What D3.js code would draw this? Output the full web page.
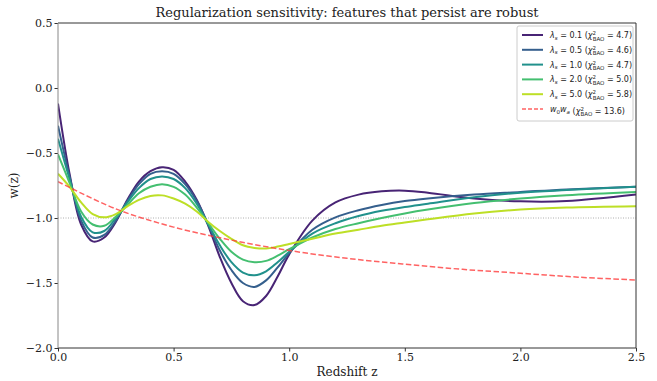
<!DOCTYPE html>
<html>
<head>
<meta charset="utf-8">
<script src="https://cdn.jsdelivr.net/npm/d3@7"></script>
<style>
body { margin: 0; background: #fff; }
svg { display: block; }
.tick text { font-family: "DejaVu Serif", serif; font-size: 11px; fill: #222; }
</style>
</head>
<body>
<div id="chart"></div>
<script>
// redshift grid the curves were read on
var z_grid = [0, 0.05, 0.1, 0.15, 0.2, 0.25, 0.3, 0.35, 0.4, 0.45, 0.5, 0.55, 0.6, 0.65,
              0.7, 0.75, 0.8, 0.85, 0.9, 0.95, 1.0, 1.1, 1.2, 1.3, 1.4, 1.5, 1.6, 1.8,
              2.0, 2.2, 2.5];

var w_lam01 = [-0.12, -0.66, -1.05, -1.18, -1.15, -1.03, -0.86, -0.72, -0.64, -0.61, -0.63, -0.72,
               -0.86, -1.06, -1.30, -1.50, -1.64, -1.67, -1.60, -1.45, -1.28, -1.02, -0.88, -0.82,
               -0.795, -0.79, -0.805, -0.85, -0.872, -0.87, -0.82];
var w_lam05 = [-0.29, -0.68, -1.02, -1.15, -1.13, -1.02, -0.87, -0.74, -0.66, -0.64, -0.66, -0.74,
               -0.87, -1.05, -1.25, -1.40, -1.50, -1.53, -1.48, -1.38, -1.27, -1.09, -0.995, -0.94,
               -0.90, -0.87, -0.85, -0.82, -0.80, -0.78, -0.76];
var w_lam10 = [-0.39, -0.70, -0.99, -1.11, -1.10, -1.00, -0.88, -0.77, -0.70, -0.68, -0.70, -0.77,
               -0.89, -1.05, -1.21, -1.34, -1.42, -1.44, -1.41, -1.34, -1.26, -1.12, -1.04, -0.985,
               -0.945, -0.915, -0.89, -0.84, -0.805, -0.785, -0.76];
var w_lam20 = [-0.51, -0.73, -0.95, -1.05, -1.06, -0.99, -0.90, -0.81, -0.76, -0.74, -0.76, -0.82,
               -0.92, -1.04, -1.16, -1.26, -1.32, -1.34, -1.33, -1.29, -1.24, -1.15, -1.085, -1.04,
               -1.00, -0.965, -0.935, -0.885, -0.85, -0.825, -0.80];
var w_lam50 = [-0.66, -0.76, -0.88, -0.97, -0.995, -0.97, -0.91, -0.86, -0.83, -0.826, -0.85, -0.89,
               -0.95, -1.03, -1.10, -1.16, -1.21, -1.23, -1.235, -1.22, -1.20, -1.16, -1.12, -1.09,
               -1.06, -1.035, -1.01, -0.965, -0.935, -0.92, -0.91];

// w0wa fit, read on a coarser grid
var z_w0wa = [0, 0.25, 0.5, 0.75, 1.0, 1.25, 1.5, 1.75, 2.0, 2.25, 2.5];
var w_w0wa = [-0.72, -0.93, -1.07, -1.17, -1.25, -1.31, -1.355, -1.395, -1.425, -1.455, -1.477];

var lambdas = ["0.1", "0.5", "1.0", "2.0", "5.0"];
var chi2 = ["4.7", "4.6", "4.7", "5.0", "5.8"];
var chi2_w0wa = "13.6";

var x_ticks = [0, 0.5, 1.0, 1.5, 2.0, 2.5];
var y_ticks = [0.5, 0, -0.5, -1.0, -1.5, -2.0];

var W = 657, H = 381;
var margin = {left: 58, right: 21, top: 23, bottom: 33};

var series = [w_lam01, w_lam05, w_lam10, w_lam20, w_lam50];
var colors = ["#482475", "#355f8d", "#21918c", "#44bf70", "#bddf26"];

var svg = d3.select("#chart").append("svg")
    .attr("width", W)
    .attr("height", H);

var x = d3.scaleLinear().domain([0, 2.5]).range([margin.left, W - margin.right]);
var y = d3.scaleLinear().domain([-2.0, 0.5]).range([H - margin.bottom, margin.top]);

var fmt = function(d) { return d3.format(".1f")(d).replace("-", "\u2212"); };

// clip curves to the axes box
svg.append("clipPath").attr("id", "clip")
    .append("rect")
    .attr("x", margin.left).attr("y", margin.top)
    .attr("width", W - margin.left - margin.right)
    .attr("height", H - margin.top - margin.bottom);

var plot = svg.append("g").attr("clip-path", "url(#clip)");

// reference line w = -1
plot.append("line")
    .attr("x1", x(0)).attr("x2", x(2.5))
    .attr("y1", y(-1)).attr("y2", y(-1))
    .attr("stroke", "#999")
    .attr("stroke-width", 0.8)
    .attr("stroke-dasharray", "1,1.5");

var line = d3.line()
    .x(function(d) { return x(d[0]); })
    .y(function(d) { return y(d[1]); })
    .curve(d3.curveCatmullRom.alpha(0.5));

series.forEach(function(s, i) {
    plot.append("path")
        .datum(z_grid.map(function(z, j) { return [z, s[j]]; }))
        .attr("d", line)
        .attr("fill", "none")
        .attr("stroke", colors[i])
        .attr("stroke-width", 2);
});

plot.append("path")
    .datum(z_w0wa.map(function(z, j) { return [z, w_w0wa[j]]; }))
    .attr("d", line)
    .attr("fill", "none")
    .attr("stroke", "#ff3b3b")
    .attr("stroke-opacity", 0.8)
    .attr("stroke-width", 1.5)
    .attr("stroke-dasharray", "5.5,2.5");

// axes
var xAxis = svg.append("g")
    .attr("transform", "translate(0," + (H - margin.bottom) + ")")
    .call(d3.axisBottom(x).tickValues(x_ticks).tickFormat(fmt).tickSizeOuter(0).tickSize(3.5).tickPadding(2));
var yAxis = svg.append("g")
    .attr("transform", "translate(" + margin.left + ",0)")
    .call(d3.axisLeft(y).tickValues(y_ticks).tickFormat(fmt).tickSizeOuter(0).tickSize(3.5).tickPadding(2));
xAxis.select(".domain").remove();
yAxis.select(".domain").remove();
xAxis.selectAll(".tick line").attr("stroke", "#333");
yAxis.selectAll(".tick line").attr("stroke", "#333");

// spines
var spine = function(x1, y1, x2, y2, c) {
    svg.append("line")
        .attr("x1", x1).attr("y1", y1).attr("x2", x2).attr("y2", y2)
        .attr("stroke", c).attr("stroke-width", 1);
}
spine(margin.left, margin.top, W - margin.right, margin.top, "#333");
spine(W - margin.right, margin.top, W - margin.right, H - margin.bottom, "#333");
spine(margin.left, H - margin.bottom, W - margin.right, H - margin.bottom, "#333");
spine(margin.left, margin.top, margin.left, H - margin.bottom, "#888");

// title and labels
svg.append("text")
    .attr("x", (margin.left + W - margin.right) / 2)
    .attr("y", 17)
    .attr("text-anchor", "middle")
    .style("font-family", "DejaVu Serif, serif")
    .style("font-size", "13px")
    .attr("fill", "#222")
    .text("Regularization sensitivity: features that persist are robust");

svg.append("text")
    .attr("x", (margin.left + W - margin.right) / 2)
    .attr("y", 376)
    .attr("text-anchor", "middle")
    .style("font-family", "DejaVu Serif, serif")
    .style("font-size", "12px")
    .attr("fill", "#222")
    .text("Redshift z");

svg.append("text")
    .attr("transform", "translate(18," + y(-0.75) + ") rotate(-90)")
    .attr("text-anchor", "middle")
    .style("font-family", "DejaVu Serif, serif")
    .style("font-size", "12px")
    .attr("fill", "#222")
    .text("w(z)");

// legend
var lg = svg.append("g").attr("transform", "translate(517,26)");
lg.append("rect")
    .attr("width", 116).attr("height", 95)
    .attr("rx", 2)
    .attr("fill", "#fff")
    .attr("fill-opacity", 0.8)
    .attr("stroke", "#ccc");

var row_h = 14.8;
var add_entry = function(i, color, dashed, label_fn) {
    var yy = 9 + i * row_h;
    lg.append("line")
        .attr("x1", 5).attr("x2", 26)
        .attr("y1", yy).attr("y2", yy)
        .attr("stroke", color)
        .attr("stroke-opacity", dashed ? 0.8 : 1)
        .attr("stroke-width", dashed ? 1.5 : 2)
        .attr("stroke-dasharray", dashed ? "4,2" : null);
    var t = lg.append("text")
        .attr("x", 33).attr("y", yy + 3)
        .style("font-family", "DejaVu Sans, sans-serif")
        .style("font-size", "8px")
        .attr("fill", "#222");
    label_fn(t);
}

// chi^2_BAO with stacked super/subscript
var add_chi = function(t, val) {
    t.append("tspan").text(" (");
    t.append("tspan").style("font-style", "italic").text("\u03c7");
    t.append("tspan").attr("dy", -3).style("font-size", "5.5px").text("2");
    t.append("tspan").attr("dx", -3.4).attr("dy", 5.5).style("font-size", "5.5px").text("BAO");
    t.append("tspan").attr("dy", -2.5).text(" = " + val + ")");
}

lambdas.forEach(function(l, i) {
    add_entry(i, colors[i], false, function(t) {
        t.append("tspan").style("font-style", "italic").text("\u03bb");
        t.append("tspan").attr("dy", 1.5).style("font-size", "5.5px").style("font-style", "italic").text("s");
        t.append("tspan").attr("dy", -1.5).text(" = " + l);
        add_chi(t, chi2[i]);
    });
});

add_entry(5, "#ff3b3b", true, function(t) {
    t.append("tspan").style("font-style", "italic").text("w");
    t.append("tspan").attr("dy", 1.5).style("font-size", "5.5px").text("0");
    t.append("tspan").attr("dy", -1.5).style("font-style", "italic").text("w");
    t.append("tspan").attr("dy", 1.5).style("font-size", "5.5px").style("font-style", "italic").text("a");
    t.append("tspan").attr("dy", -1.5).text("");
    add_chi(t, chi2_w0wa);
});
</script>
</body>
</html>
